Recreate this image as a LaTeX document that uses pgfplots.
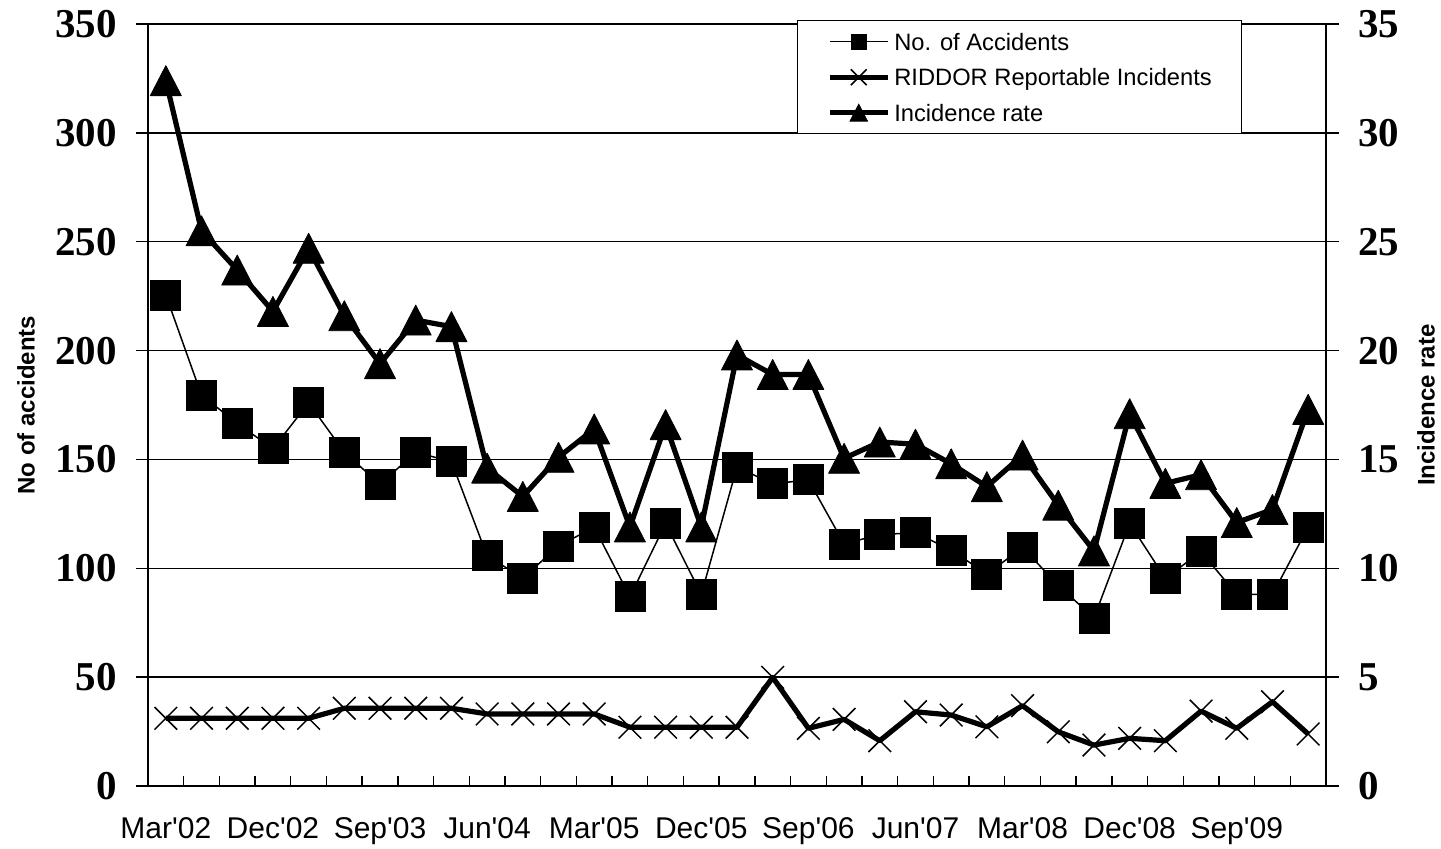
\documentclass[border=0pt]{standalone}
\usepackage{fontspec}
\usepackage{pgfplots}
\usepackage{pgfplotstable}
\pgfplotsset{compat=1.18}
\newfontfamily\arial{Liberation Sans}
\newfontfamily\tnr{Liberation Serif}

% Excel-like triangle, centred on its bounding box
\pgfdeclareplotmark{tri}{%
  \pgfpathmoveto{\pgfqpoint{0pt}{\pgfplotmarksize}}%
  \pgfpathlineto{\pgfqpoint{1.033\pgfplotmarksize}{-\pgfplotmarksize}}%
  \pgfpathlineto{\pgfqpoint{-1.033\pgfplotmarksize}{-\pgfplotmarksize}}%
  \pgfpathclose
  \pgfusepathqfillstroke
}

%%% quarterly figures, Mar'02 .. Mar'10
\pgfplotstableread{
i  acc    riddor  rate
0  225.5  31.1    32.4
1  179.5  31.1    25.5
2  166.6  31.1    23.7
3  154.9  31.1    21.8
4  176.0  31.1    24.7
5  153.3  35.7    21.6
6  138.6  35.7    19.4
7  153.3  35.7    21.4
8  149.0  35.7    21.1
9  105.7  33.1    14.6
10  95.5  33.1    13.3
11 110.2  33.1    15.1
12 118.9  33.1    16.4
13  86.9  27.0    11.9
14 120.6  27.0    16.6
15  88.0  27.0    11.9
16 146.5  27.0    19.8
17 138.8  49.9    18.9
18 140.6  26.5    18.9
19 111.2  30.6    15.05
20 115.5  20.8    15.8
21 116.3  34.1    15.7
22 108.4  32.6    14.8
23  97.3  27.2    13.75
24 109.6  36.9    15.2
25  92.1  24.9    12.9
26  77.2  18.8    10.8
27 120.6  21.9    17.1
28  95.4  20.8    13.9
29 107.6  34.4    14.3
30  88.0  26.5    12.1
31  88.0  38.7    12.7
32 118.9  23.9    17.3
}\data

\pgfplotsset{
  common/.style={
    width=589pt, height=381pt, scale only axis,
    at={(0,0)}, anchor=south west,
    xmin=-0.5, xmax=32.5,
    clip=false,
    axis line style={-, black, line width=0.7pt},
    tick style={black, line width=0.7pt},
    /pgf/number format/assume math mode=true,
  },
  numfont/.style={font=\tnr\bfseries\fontsize{20.5}{24}\selectfont},
}

\begin{document}
\begin{tikzpicture}
\begin{scope}[overlay]

  %%% left axis: accidents and RIDDOR
  \begin{axis}[
    common,
    ymin=0, ymax=350,
    axis x line*=bottom,
    axis y line*=left,
    ytick={0,50,...,350},
    xtick={0,3,...,30},
    xticklabels={Mar'02,Dec'02,Sep'03,Jun'04,Mar'05,Dec'05,Sep'06,Jun'07,Mar'08,Dec'08,Sep'09},
    major x tick style={draw=none},
    tick align=outside,
    major tick length=6pt,
    ymajorgrids,
    grid style={black, line width=0.7pt},
    yticklabel style={numfont, inner sep=0pt, xshift=-9.5pt},
    xticklabel style={font=\arial\fontsize{15}{18}\selectfont, inner sep=0pt, yshift=-9.5pt},
    ylabel={No of accidents},
    ylabel style={at={(axis description cs:-0.1036,0.5)}, anchor=center,
      font=\arial\bfseries\fontsize{12}{14}\selectfont},
  ]
    \addplot [black, line width=0.75pt, mark=square*, mark size=7.5pt,
      mark options={line width=0.4pt}]
      table [x=i, y=acc] {\data};
    \addplot [black, line width=2.6pt, line join=round, mark=x, mark size=8pt,
      mark options={line width=0.75pt}]
      table [x=i, y=riddor] {\data};
  \end{axis}

  %%% category ticks on the x axis, pointing inwards
  \begin{axis}[
    common,
    ymin=0, ymax=350,
    axis x line*=bottom,
    axis y line=none,
    ytick=\empty,
    xtick={-0.5,0.5,...,32.5},
    xticklabels={},
    tick align=inside,
    major tick length=5pt,
  ]
  \end{axis}

  %%% right axis: incidence rate
  \begin{axis}[
    common,
    ymin=0, ymax=35,
    axis x line=none,
    axis y line*=right,
    xtick=\empty,
    ytick={0,5,...,35},
    tick align=outside,
    major tick length=6.5pt,
    yticklabel style={numfont, inner sep=0pt, xshift=9.5pt},
    ylabel={Incidence rate},
    ylabel style={at={(axis description cs:1.0849,0.5)}, anchor=center,
      font=\arial\bfseries\fontsize{12}{14}\selectfont},
    legend image code/.code={
      \draw [mark repeat=2, mark phase=2, #1]
        plot coordinates {(0pt,0pt) (14.5pt,0pt) (29pt,0pt)};},
    legend cell align=left,
    legend style={at={(0.5509,1.00525)}, anchor=north west,
      draw=black, line width=0.7pt, fill=white,
      inner xsep=14.75pt, inner ysep=4.75pt, row sep=6.25pt, column sep=2pt,
      font=\arial\fontsize{11.85}{14}\selectfont,
      nodes={inner sep=0pt, text height=10pt, text depth=1.5pt}},
  ]
    \addplot [black, line width=2.6pt, line join=round, mark=tri, mark size=7.5pt,
      mark options={line width=0.4pt}, forget plot]
      table [x=i, y=rate] {\data};

    \addlegendimage{black, line width=0.75pt, mark=square*, mark size=3.75pt,
      mark options={line width=0.4pt}}
    \addlegendimage{black, line width=2.6pt, mark=x, mark size=5.6pt,
      mark options={line width=0.75pt}}
    \addlegendimage{black, line width=2.6pt, mark=tri, mark size=4.25pt,
      mark options={line width=0.4pt}}
    \legend{No. of Accidents, RIDDOR Reportable Incidents, Incidence rate}
  \end{axis}

\end{scope}
\path (-74pt,-31pt) rectangle (646.5pt,393pt);
\end{tikzpicture}
\end{document}
